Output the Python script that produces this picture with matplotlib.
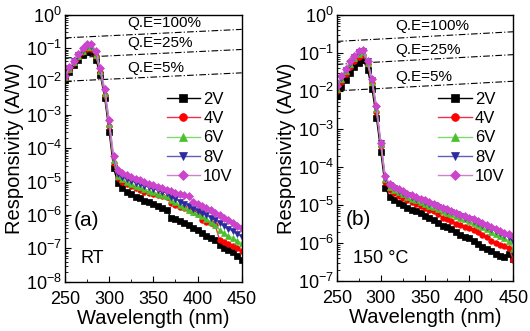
import numpy as np
import matplotlib
matplotlib.use("Agg")
import matplotlib.pyplot as plt
from matplotlib.ticker import MultipleLocator, LogLocator

plt.rcParams['font.family'] = ['Liberation Sans', 'DejaVu Sans']
plt.rcParams['mathtext.fontset'] = 'custom'
plt.rcParams['mathtext.rm'] = 'Liberation Sans'
plt.rcParams['mathtext.it'] = 'Liberation Sans'

wavelength = list(range(250, 455, 5))
voltages = ["2V", "4V", "6V", "8V", "10V"]

# log10 of responsivity (A/W), panel (a) RT
rt_2v = [-1.95, -1.72, -1.52, -1.36, -1.22, -1.12, -1.13, -1.35, -1.80, -2.50, -3.50, -4.60,
         -5.05, -5.20, -5.30, -5.38, -5.45, -5.50, -5.57, -5.62, -5.68, -5.73, -5.80, -5.85,
         -6.08, -6.13, -6.18, -6.25, -6.30, -6.38, -6.45, -6.55, -6.62, -6.68, -6.75, -6.90,
         -6.98, -7.05, -7.12, -7.22, -7.34]
rt_4v = [-1.90, -1.65, -1.45, -1.28, -1.13, -1.03, -1.04, -1.25, -1.72, -2.40, -3.35, -4.45,
         -4.90, -5.02, -5.08, -5.14, -5.20, -5.25, -5.30, -5.34, -5.38, -5.41, -5.44, -5.47,
         -5.65, -5.70, -5.75, -5.80, -5.85, -5.90, -5.96, -6.15, -6.20, -6.25, -6.30, -6.75,
         -6.80, -6.87, -6.93, -7.00, -7.09]
rt_6v = [-1.88, -1.62, -1.42, -1.24, -1.08, -0.98, -0.98, -1.20, -1.68, -2.35, -3.28, -4.35,
         -4.82, -4.93, -5.00, -5.06, -5.12, -5.17, -5.22, -5.27, -5.31, -5.36, -5.40, -5.44,
         -5.55, -5.62, -5.70, -5.77, -5.84, -5.90, -5.97, -6.04, -6.12, -6.20, -6.30, -6.45,
         -6.55, -6.62, -6.70, -6.77, -6.85]
rt_8v = [-1.86, -1.60, -1.40, -1.21, -1.05, -0.94, -0.93, -1.15, -1.65, -2.30, -3.22, -4.30,
         -4.77, -4.87, -4.93, -4.98, -5.03, -5.08, -5.12, -5.17, -5.21, -5.26, -5.30, -5.34,
         -5.45, -5.52, -5.60, -5.67, -5.74, -5.81, -5.87, -5.94, -6.01, -6.08, -6.15, -6.25,
         -6.33, -6.41, -6.49, -6.57, -6.65]
rt_10v = [-1.85, -1.58, -1.38, -1.18, -1.00, -0.88, -0.87, -1.10, -1.60, -2.22, -3.15, -4.22,
          -4.65, -4.74, -4.80, -4.86, -4.92, -4.96, -5.01, -5.06, -5.10, -5.15, -5.20, -5.24,
          -5.29, -5.33, -5.37, -5.40, -5.42, -5.62, -5.67, -5.73, -5.79, -5.86, -5.93, -6.00,
          -6.08, -6.16, -6.24, -6.32, -6.40]

# log10 of responsivity (A/W), panel (b) 150 C
ht_2v = [-2.13, -1.90, -1.70, -1.52, -1.37, -1.25, -1.18, -1.45, -1.95, -2.70, -3.60, -4.54,
         -4.80, -4.88, -4.95, -5.01, -5.07, -5.12, -5.17, -5.22, -5.28, -5.34, -5.40, -5.46,
         -5.55, -5.58, -5.62, -5.70, -5.78, -5.84, -5.88, -5.95, -6.02, -6.10, -6.15, -6.22,
         -6.28, -6.33, -6.38, -6.30, -6.42]
ht_4v = [-2.00, -1.75, -1.55, -1.38, -1.22, -1.10, -1.05, -1.30, -1.80, -2.55, -3.45, -4.40,
         -4.60, -4.68, -4.75, -4.81, -4.88, -4.93, -4.98, -5.02, -5.07, -5.12, -5.17, -5.24,
         -5.33, -5.38, -5.43, -5.49, -5.53, -5.57, -5.61, -5.66, -5.72, -5.78, -5.85, -5.95,
         -6.00, -6.05, -6.08, -6.12, -6.45]
ht_6v = [-1.95, -1.68, -1.48, -1.30, -1.14, -1.02, -0.98, -1.25, -1.75, -2.48, -3.40, -4.32,
         -4.52, -4.60, -4.66, -4.72, -4.78, -4.83, -4.88, -4.93, -4.97, -5.02, -5.06, -5.11,
         -5.15, -5.20, -5.24, -5.29, -5.33, -5.38, -5.43, -5.48, -5.53, -5.58, -5.64, -5.70,
         -5.76, -5.82, -5.88, -5.94, -6.15]
ht_8v = [-1.92, -1.65, -1.45, -1.26, -1.10, -0.98, -0.95, -1.22, -1.72, -2.45, -3.38, -4.28,
         -4.48, -4.56, -4.62, -4.68, -4.73, -4.78, -4.83, -4.88, -4.92, -4.97, -5.01, -5.06,
         -5.10, -5.15, -5.19, -5.24, -5.28, -5.33, -5.37, -5.42, -5.47, -5.52, -5.57, -5.63,
         -5.68, -5.74, -5.79, -5.85, -5.95]
ht_10v = [-1.87, -1.60, -1.43, -1.21, -1.08, -0.95, -0.93, -1.20, -1.69, -2.39, -3.36, -4.24,
          -4.44, -4.52, -4.58, -4.64, -4.70, -4.74, -4.79, -4.84, -4.88, -4.93, -4.97, -5.02,
          -5.07, -5.11, -5.16, -5.20, -5.25, -5.29, -5.34, -5.38, -5.43, -5.48, -5.53, -5.58,
          -5.63, -5.68, -5.73, -5.77, -5.82]

# quantum efficiency reference lines (end points at 250 and 450 nm)
qe_wl = [250, 450]
qe_labels = ["Q.E=100%", "Q.E=25%", "Q.E=5%"]
qe_resp = [[0.202, 0.363], [0.0504, 0.0907], [0.0101, 0.0181]]

colors = ["black", "#FF0000", "#4CC02A", "#2B2BA0", "#CC44CC"]
line_colors = ["black", "#F03050", "#80D870", "#6060B8", "#D080D0"]
markers = ["s", "o", "^", "v", "D"]

fig = plt.figure(figsize=(5.3, 3.31), dpi=100)
ax_a = fig.add_axes([0.1226, 0.149, 0.3334, 0.8066])
ax_b = fig.add_axes([0.6353, 0.151, 0.3332, 0.8036])

panels = [
    (ax_a, [rt_2v, rt_4v, rt_6v, rt_8v, rt_10v], (1e-8, 1), "(a)", "RT",
     [0.575, 0.145, 0.026], 321),
    (ax_b, [ht_2v, ht_4v, ht_6v, ht_8v, ht_10v], (1e-7, 1), "(b)", "150 °C",
     [0.51, 0.12, 0.023], 316),
]

for ax, series, ylim, tag, cond, qe_text_y, qe_text_x in panels:
    for resp, label in zip(qe_resp, qe_labels):
        ax.plot(qe_wl, resp, color="black", lw=0.8, dashes=(6, 2, 1, 2))
    for i, vals in enumerate(series):
        ax.plot(wavelength, 10 ** np.array(vals), color=line_colors[i], lw=1.0,
                marker=markers[i], markersize=4, markerfacecolor=colors[i],
                markeredgecolor=colors[i], markeredgewidth=0.5, label=voltages[i])
    for y, label in zip(qe_text_y, qe_labels):
        ax.text(qe_text_x, y, label, fontsize=11, va="center", ha="left")

    ax.set_yscale("log")
    ax.set_ylim(*ylim)
    ax.set_xlim(250, 450)
    ax.xaxis.set_major_locator(MultipleLocator(50))
    ax.xaxis.set_minor_locator(MultipleLocator(25))
    ax.yaxis.set_major_locator(LogLocator(base=10, numticks=12))
    ax.yaxis.set_minor_locator(LogLocator(base=10, subs=np.arange(2, 10), numticks=12))
    ax.tick_params(which="both", direction="in", labelsize=13)
    ax.tick_params(axis="x", which="major", pad=6.5)
    ax.tick_params(axis="y", which="major", pad=2)
    ax.tick_params(which="major", length=4, width=0.8)
    ax.tick_params(which="minor", length=2, width=0.6)
    ax.tick_params(axis="y", which="minor", labelleft=False)
    for s in ax.spines.values():
        s.set_linewidth(1.0)

    ax.set_xlabel("Wavelength (nm)", fontsize=14.5, labelpad=1)
    ax.set_ylabel("Responsivity (A/W)", fontsize=14.5)
    ax.yaxis.set_label_coords(-0.232, 0.5)

    ax.text(0.05, 0.23, tag, transform=ax.transAxes, fontsize=15, va="center")
    ax.text(0.09, 0.085, cond, transform=ax.transAxes, fontsize=13, va="center")

    ax.legend(loc="upper left", bbox_to_anchor=(0.575, 0.71), frameon=False,
              fontsize=12, handlelength=2.0, handletextpad=0.2, labelspacing=0.25,
              borderpad=0, borderaxespad=0, markerscale=1.4)

fig.savefig("out.png", dpi=100)
